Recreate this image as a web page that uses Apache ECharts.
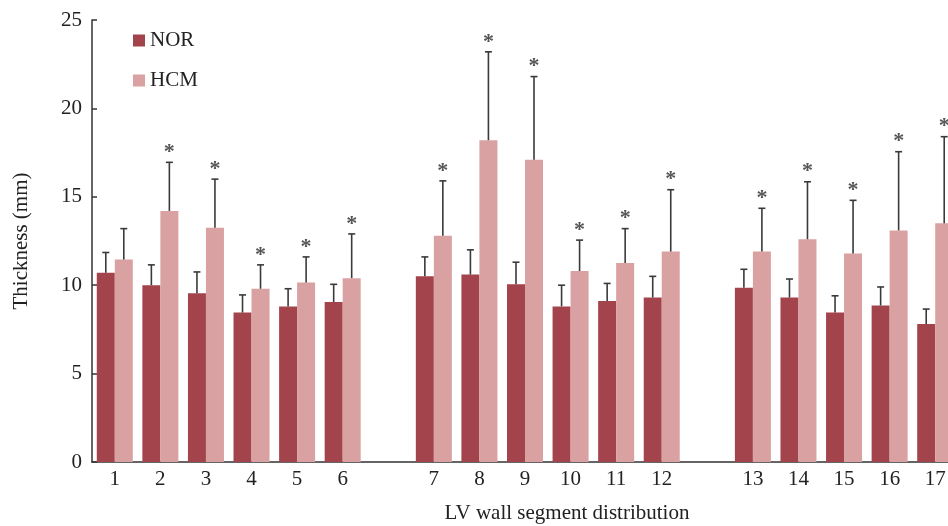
<!DOCTYPE html>
<html>
<head>
<meta charset="utf-8">
<script src="https://cdn.jsdelivr.net/npm/echarts@6/dist/echarts.min.js"></script>
<style>html,body{margin:0;padding:0;background:#fff;}#c{width:948px;height:526px;}</style>
</head>
<body>
<div id="c"></div>
<script>
const segments = ['1','2','3','4','5','6','7','8','9','10','11','12','13','14','15','16','17'];
const gapAfter = ['6','12'];
const norMean = [10.7, 10.0, 9.55, 8.45, 8.8, 9.05, 10.5, 10.6, 10.05, 8.8, 9.1, 9.3, 9.85, 9.3, 8.45, 8.85, 7.8];
const norSD   = [1.15, 1.15, 1.2, 1.0, 1.0, 1.0, 1.1, 1.4, 1.25, 1.2, 1.0, 1.2, 1.05, 1.05, 0.95, 1.05, 0.85];
const hcmMean = [11.45, 14.2, 13.25, 9.8, 10.15, 10.4, 12.8, 18.2, 17.1, 10.8, 11.25, 11.9, 11.9, 12.6, 11.8, 13.1, 13.5];
const hcmSD   = [1.75, 2.75, 2.75, 1.35, 1.45, 2.5, 3.1, 5.0, 4.7, 1.75, 1.95, 3.5, 2.45, 3.25, 3.0, 4.45, 4.9];
const hcmSig  = [0,1,1,1,1,1,1,1,1,1,1,1,1,1,1,1,1];
const yTicks = [0, 5, 10, 15, 20, 25];

const FONT = '"Liberation Serif", "Times New Roman", serif';
const NOR_COLOR = '#A3434B';
const HCM_COLOR = '#D9A1A1';
const CAT_GAP = 0.21;

const categories = [];
const idxOf = [];
segments.forEach(function (s) {
  idxOf.push(categories.length);
  categories.push(s);
  if (gapAfter.indexOf(s) >= 0) categories.push('');
});
function fullArr(vals) {
  const a = categories.map(function () { return '-'; });
  vals.forEach(function (v, i) { a[idxOf[i]] = v; });
  return a;
}
function errData(mean, sd, sig) {
  return mean.map(function (m, i) { return [idxOf[i], m, m + sd[i], sig ? sig[i] : 0]; });
}
function makeErr(side) {
  return function (params, api) {
    const idx = api.value(0), mean = api.value(1), top = api.value(2), sig = api.value(3);
    const band = api.size([1, 0])[0];
    const bw = band * (1 - CAT_GAP) / 2;
    const p0 = api.coord([idx, mean]);
    const p1 = api.coord([idx, top]);
    const x = p0[0] + side * bw / 2;
    const style = { stroke: '#3a3a3a', lineWidth: 1.6 };
    const children = [
      { type: 'line', shape: { x1: x, y1: p0[1], x2: x, y2: p1[1] }, style: style },
      { type: 'line', shape: { x1: x - 3.5, y1: p1[1], x2: x + 3.5, y2: p1[1] }, style: style }
    ];
    if (sig) {
      children.push({ type: 'text', style: { text: '*', x: x, y: p1[1] + 1, textAlign: 'center', textVerticalAlign: 'bottom', fill: '#555', font: 'bold 22px ' + FONT } });
    }
    return { type: 'group', children: children };
  };
}

const chart = echarts.init(document.getElementById('c'));
chart.setOption({
  animation: false,
  backgroundColor: '#fff',
  grid: { left: 92, right: -10, top: 20, bottom: 64, outerBoundsMode: 'none', containLabel: false },
  legend: {
    data: ['NOR', 'HCM'], orient: 'vertical', left: 128, top: 25,
    itemWidth: 12, itemHeight: 12, itemGap: 19, icon: 'rect',
    textStyle: { fontFamily: FONT, fontSize: 21, color: '#222' }
  },
  xAxis: {
    type: 'category', data: categories, boundaryGap: true,
    name: 'LV wall segment distribution', nameLocation: 'middle', nameGap: 41,
    nameTextStyle: { fontFamily: FONT, fontSize: 21, color: '#222', padding: [0, 0, 0, 84] },
    axisLine: { lineStyle: { color: '#333', width: 1.5 } },
    axisTick: { inside: true, length: 4, lineStyle: { color: '#333', width: 1.5 } },
    axisLabel: { fontFamily: FONT, fontSize: 21, color: '#222', margin: 7, interval: 0 },
    splitLine: { show: false }
  },
  yAxis: {
    type: 'value', min: 0, max: 25, interval: 5,
    name: 'Thickness (mm)', nameLocation: 'middle', nameGap: 60,
    nameTextStyle: { fontFamily: FONT, fontSize: 21, color: '#222' },
    axisLine: { show: true, lineStyle: { color: '#333', width: 1.5 } },
    axisTick: { show: true, inside: true, length: 5, lineStyle: { color: '#333', width: 1.5 } },
    axisLabel: { fontFamily: FONT, fontSize: 21, color: '#222', margin: 10 },
    splitLine: { show: false }
  },
  series: [
    { name: 'NOR', type: 'bar', data: fullArr(norMean), barGap: '0%', barCategoryGap: (CAT_GAP * 100) + '%', itemStyle: { color: NOR_COLOR } },
    { name: 'HCM', type: 'bar', data: fullArr(hcmMean), barGap: '0%', barCategoryGap: (CAT_GAP * 100) + '%', itemStyle: { color: HCM_COLOR } },
    { name: 'NOR err', type: 'custom', renderItem: makeErr(-1), data: errData(norMean, norSD), z: 5, silent: true },
    { name: 'HCM err', type: 'custom', renderItem: makeErr(1), data: errData(hcmMean, hcmSD, hcmSig), z: 5, silent: true }
  ]
});
</script>
</body>
</html>
